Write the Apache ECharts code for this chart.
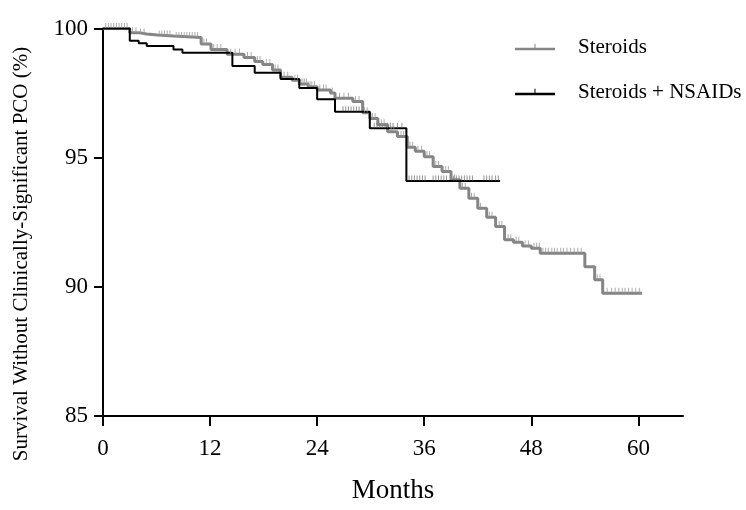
<!DOCTYPE html>
<html><head><meta charset="utf-8">
<script src="https://cdn.jsdelivr.net/npm/echarts@6/dist/echarts.min.js"></script>
<style>html,body{margin:0;padding:0;background:#fff}#c{width:746px;height:510px}</style>
</head><body><div id="c"></div>
<script>
const xTicks = [0, 12, 24, 36, 48, 60];
const yTicks = [85, 90, 95, 100];
const seriesNames = ['Steroids', 'Steroids + NSAIDs'];

const steroidsT = [0,3.0,4.0,4.9,6.1,7.9,11.0,12.1,13.9,15.8,17.0,17.9,19.0,19.9,21.2,22.0,23.0,24.0,25.5,26.0,28.0,29.1,29.9,30.8,31.9,33.0,34.1,35.0,36.0,37.0,38.0,39.0,40.0,41.0,42.0,43.0,44.0,45.0,46.0,47.0,48.0,49.0,54.0,55.1,56.0,60.4];
const steroidsS = [100,99.84,99.79,99.75,99.71,99.65,99.40,99.19,99.00,98.88,98.72,98.61,98.39,98.11,98.00,97.85,97.75,97.62,97.50,97.30,97.17,96.74,96.52,96.27,96.00,95.82,95.40,95.25,95.04,94.66,94.46,94.15,93.82,93.43,93.04,92.69,92.34,91.82,91.73,91.58,91.49,91.30,90.78,90.27,89.75,89.75];

const nsaidT = [0,3.0,4.0,4.9,7.9,8.9,14.5,17.0,19.9,22.0,24.0,26.0,29.9,34.0,44.5];
const nsaidS = [100,99.53,99.43,99.32,99.19,99.06,98.55,98.29,98.05,97.70,97.26,96.78,96.14,94.10,94.10];

const steroidsCensor = [0.3,0.6,0.9,1.2,1.5,1.8,2.1,2.4,2.7,3.3,3.7,4.2,4.6,6.3,6.6,6.9,7.2,7.5,8.2,8.5,8.8,9.1,9.4,9.7,10.0,10.3,10.6,11.3,11.6,12.4,12.8,13.2,14.3,14.8,15.3,16.2,16.6,17.3,17.6,18.3,18.7,19.3,19.6,20.3,20.7,21.5,21.8,22.2,22.4,22.6,22.8,23.0,23.2,23.4,23.7,24.3,24.7,25.0,25.7,26.5,27.0,27.5,28.3,28.7,29.3,29.6,30.2,30.5,31.2,31.5,32.3,32.6,33.4,33.7,34.4,34.7,35.3,35.7,36.3,36.6,37.3,37.6,38.4,38.7,39.4,40.3,40.6,41.3,41.6,42.3,43.3,43.6,44.4,44.7,45.4,45.7,46.3,46.6,47.3,47.7,48.3,48.6,48.9,49.3,49.6,49.9,50.3,50.6,50.9,51.3,51.6,52.0,52.4,52.8,53.2,53.6,55.4,55.7,56.5,57.0,57.4,57.8,58.2,58.5,58.9,59.3,59.7,60.1];
const nsaidCensor = [26.9,27.2,27.5,27.8,28.1,28.4,28.7,30.4,30.7,31.0,31.3,31.6,31.9,32.2,32.5,33.0,33.5,34.3,34.6,34.9,35.2,35.5,35.8,36.1,37.0,37.3,37.6,37.9,38.2,38.5,39.3,39.6,39.9,40.2,40.5,40.8,41.1,41.4,42.7,43.0,43.3,43.6,44.0,44.3];

function pairs(ts, ss) { return ts.map((t, i) => [t, ss[i]]); }
function stepAt(ts, ss, t) { let v = ss[0]; for (let i = 0; i < ts.length; i++) { if (ts[i] <= t) v = ss[i]; } return v; }
function censorPts(cs, ts, ss) { return cs.map(c => [c, stepAt(ts, ss, c)]); }

const FONT = '"Liberation Serif", "Times New Roman", serif';
const iconPath = 'path://M0,4h40v2.5h-40z M19.5,0h1v4h-1z';

const chart = echarts.init(document.getElementById('c'), null, {renderer: 'canvas'});
chart.setOption({
  animation: false,
  backgroundColor: '#fff',
  grid: {left: 103, right: 63, top: 28.5, bottom: 94, containLabel: false},
  xAxis: {
    type: 'value', min: 0, max: 65, interval: 12,
    name: 'Months', nameLocation: 'middle', nameGap: 61,
    nameTextStyle: {fontFamily: FONT, fontSize: 27, color: '#000'},
    axisLine: {lineStyle: {color: '#000', width: 2}},
    axisTick: {show: true, length: 10, lineStyle: {color: '#000', width: 2}, customValues: xTicks},
    axisLabel: {fontFamily: FONT, fontSize: 23, color: '#000', margin: 21, customValues: xTicks},
    splitLine: {show: false}
  },
  yAxis: {
    type: 'value', min: 85, max: 100, interval: 5,
    axisLine: {show: true, lineStyle: {color: '#000', width: 2}},
    axisTick: {show: true, length: 9, lineStyle: {color: '#000', width: 2}, customValues: yTicks},
    axisLabel: {fontFamily: FONT, fontSize: 23, color: '#000', margin: 15, customValues: yTicks},
    splitLine: {show: false}
  },
  legend: {
    data: [{name: seriesNames[0], icon: iconPath}, {name: seriesNames[1], icon: iconPath}],
    orient: 'vertical', left: 515, top: 35, padding: 0,
    itemWidth: 40, itemHeight: 7, itemGap: 21,
    textStyle: {fontFamily: FONT, fontSize: 21, color: '#000', lineHeight: 24, padding: [0, 0, 0, 18]}
  },
  graphic: [{
    type: 'text', x: 21, y: 254, rotation: Math.PI / 2,
    style: {text: 'Survival Without Clinically-Significant PCO (%)', font: '21px ' + FONT, fill: '#000', align: 'center', verticalAlign: 'middle'}
  }],
  series: [
    {
      name: seriesNames[0], type: 'line', step: 'end', showSymbol: false, z: 2,
      data: pairs(steroidsT, steroidsS),
      itemStyle: {color: '#858585'}, lineStyle: {color: '#858585', width: 3}
    },
    {
      name: seriesNames[1], type: 'line', step: 'end', showSymbol: false, z: 3,
      data: pairs(nsaidT, nsaidS),
      itemStyle: {color: '#000'}, lineStyle: {color: '#000', width: 2}
    },
    {
      name: 'cens1', type: 'scatter', symbol: 'rect', symbolSize: [1, 5], symbolOffset: [0, -3], z: 4,
      data: censorPts(steroidsCensor, steroidsT, steroidsS), itemStyle: {color: '#999'}
    },
    {
      name: 'cens2', type: 'scatter', symbol: 'rect', symbolSize: [1, 5], symbolOffset: [0, -3], z: 4,
      data: censorPts(nsaidCensor, nsaidT, nsaidS), itemStyle: {color: '#777'}
    }
  ]
});
</script>
</body></html>
